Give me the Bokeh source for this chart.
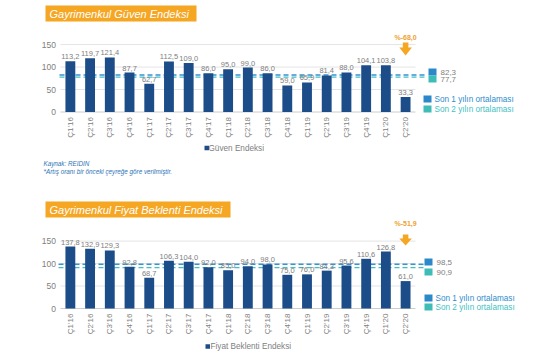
import math
from bokeh.plotting import figure
from bokeh.layouts import column
from bokeh.models import ColumnDataSource
from bokeh.core.properties import value
from bokeh.embed import file_html
from bokeh.resources import INLINE

quarters = ["Ç1'16", "Ç2'16", "Ç3'16", "Ç4'16", "Ç1'17", "Ç2'17", "Ç3'17", "Ç4'17",
            "Ç1'18", "Ç2'18", "Ç3'18", "Ç4'18", "Ç1'19", "Ç2'19", "Ç3'19", "Ç4'19",
            "Ç1'20", "Ç2'20"]
guven = [113.2, 119.7, 121.4, 87.7, 62.7, 112.5, 109.0, 86.0, 95.0, 99.0, 86.0, 59.0,
         65.9, 81.4, 88.0, 104.1, 103.8, 33.3]
fiyat = [137.8, 132.9, 129.3, 92.8, 68.7, 106.3, 104.0, 92.0, 85.0, 94.0, 98.0, 75.0,
         76.0, 84.3, 95.6, 110.6, 126.8, 61.0]
guven_avg = [82.3, 77.7]
fiyat_avg = [98.5, 90.9]
guven_change = "%-68,0"
fiyat_change = "%-51,9"
y_ticks = [0, 50, 100, 150]
avg_names = ["Son 1 yılın ortalaması", "Son 2 yılın ortalaması"]

FONT = value("Liberation Sans")
NAVY = "#1c4d89"
LINE_COLORS = ["#3593d3", "#43bfc4"]
BOX_COLORS = ["#2b88c9", "#3dbdb5"]
TEXT_COLORS = ["#2f8ccc", "#45bfbf"]
ORANGE = "#f5a623"
GREY = "#808080"

W = 555
XPX = 19.72        # px per category
PPU = 67.4 / 150.0 # px per value unit
FRAME_L = 60       # px where category -0.5 sits


def fmt(v):
    return f"{v:.1f}".replace(".", ",")


def dx(px):
    return -0.5 + (px - FRAME_L) / XPX


def make_chart(title, series, avgs, change, legend_text, height, zero_px, lay):
    def dy(py):
        return (zero_px - py) / PPU

    p = figure(width=W, height=height, x_range=(dx(0), dx(W)), y_range=(dy(height), dy(0)),
               output_backend="svg", toolbar_location=None,
               x_axis_location=None, y_axis_location=None,
               min_border_left=0, min_border_right=0, min_border_top=0, min_border_bottom=0)
    p.outline_line_color = None
    p.xgrid.visible = False
    p.ygrid.visible = False

    n = len(series)
    xs = list(range(n))
    last = n - 1

    # grid lines and baseline
    p.segment(x0=[-0.5] * 3, x1=[last + 0.5] * 3, y0=y_ticks[1:], y1=y_ticks[1:],
              line_color="#e4e4e4", line_width=1)
    p.segment(x0=[-0.5], x1=[last + 0.5], y0=[0], y1=[0], line_color="#cccccc", line_width=1)

    # y tick labels
    p.text(x=[dx(55.5)] * len(y_ticks), y=y_ticks, text=[str(t) for t in y_ticks],
           text_align="right", text_baseline="middle", text_font_size="8.5px",
           text_color=GREY, text_font=FONT)

    # category labels (rotated)
    p.text(x=xs, y=[dy(zero_px + 5)] * n, text=quarters, angle=math.pi / 2,
           text_align="right", text_baseline="middle", text_font_size="8px",
           text_color=GREY, text_font=FONT)

    # averages (dashed)
    for a, c in zip(avgs, LINE_COLORS):
        p.segment(x0=[dx(lay["dash"][0])], x1=[dx(lay["dash"][1])], y0=[a], y1=[a],
                  line_color=c, line_width=1.4, line_dash="5 3")

    src = ColumnDataSource(dict(x=xs, y=series, lbl=[fmt(v) for v in series]))
    p.vbar(x="x", top="y", width=0.5, source=src, fill_color=NAVY, line_color=None)
    p.text(x="x", y="y", text="lbl", source=src, text_align="center", text_baseline="bottom",
           y_offset=-2, text_font_size="7.5px", text_color=GREY, text_font=FONT)

    # arrow over last bar
    st, sb, ht, hb = lay["arrow"]
    p.quad(left=[last - 0.14], right=[last + 0.14], top=[dy(st)], bottom=[dy(sb)],
           fill_color=ORANGE, line_color=None)
    p.patch(x=[last - 0.32, last + 0.32, last], y=[dy(ht), dy(ht), dy(hb)],
            fill_color=ORANGE, line_color=None)
    p.text(x=[last], y=[dy(lay["change_y"])], text=[change], text_align="center",
           text_baseline="middle", text_font_size="7px", text_font_style="bold",
           text_color="#f0a030", text_font=FONT)

    # title box
    tl, tr, tt, tb = lay["title_box"]
    p.quad(left=[dx(tl)], right=[dx(tr)], top=[dy(tt)], bottom=[dy(tb)],
           fill_color=ORANGE, line_color=None)
    p.text(x=[dx(tl + 4)], y=[dy((tt + tb) / 2)], text=[title], text_align="left",
           text_baseline="middle", text_font_size="11px", text_font_style="italic",
           text_color="white", text_font=FONT)

    # average value boxes
    ax = lay["avg_x"]
    for (yt, a, c) in zip(lay["avg_y"], avgs, BOX_COLORS):
        p.quad(left=[dx(ax)], right=[dx(ax + 8)], top=[dy(yt)], bottom=[dy(yt + 7)],
               fill_color=c, line_color=None)
        p.text(x=[dx(ax + 12)], y=[dy(yt + 3.5)], text=[fmt(a)], text_align="left",
               text_baseline="middle", text_font_size="8px", text_color=GREY, text_font=FONT)

    # average legend
    lx = lay["leg_x"]
    for (yt, name, c, tc) in zip(lay["leg_y"], avg_names, BOX_COLORS, TEXT_COLORS):
        p.quad(left=[dx(lx)], right=[dx(lx + 8)], top=[dy(yt)], bottom=[dy(yt + 7)],
               fill_color=c, line_color=None)
        p.text(x=[dx(lx + 11)], y=[dy(yt + 3.5)], text=[name], text_align="left",
               text_baseline="middle", text_font_size="8.2px", text_color=tc, text_font=FONT)

    # series legend
    sx, sy = lay["series_leg"]
    p.quad(left=[dx(sx)], right=[dx(sx + 4.5)], top=[dy(sy - 2.2)], bottom=[dy(sy + 2.3)],
           fill_color=NAVY, line_color=None)
    p.text(x=[dx(sx + lay["series_gap"])], y=[dy(sy)], text=[legend_text], text_align="left",
           text_baseline="middle", text_font_size="8.2px", text_color=GREY, text_font=FONT)

    for (fx_, fy_, txt) in lay.get("notes", []):
        p.text(x=[dx(fx_)], y=[dy(fy_)], text=[txt], text_align="left",
               text_baseline="middle", text_font_size="6.3px", text_font_style="italic",
               text_color="#2e74b5", text_font=FONT)
    return p


lay1 = dict(title_box=(45, 196, 5, 21), dash=(59, 425),
            arrow=(42, 48, 47, 55), change_y=37,
            avg_x=428, avg_y=(68, 75), leg_x=423, leg_y=(95, 105),
            series_leg=(204, 147.5), series_gap=4,
            notes=[(43, 163, "Kaynak: REIDIN"),
                   (43, 171, "*Artış oranı bir önceki çeyreğe göre verilmiştir.")])
lay2 = dict(title_box=(45, 230, 11, 27), dash=(58, 424),
            arrow=(44, 49, 48, 55), change_y=33,
            avg_x=424, avg_y=(68, 78), leg_x=424, leg_y=(104, 113),
            series_leg=(205, 156), series_gap=5)

p1 = make_chart("Gayrimenkul Güven Endeksi", guven, guven_avg, guven_change,
                "Güven Endeksi", 190, 111.5, lay1)
p2 = make_chart("Gayrimenkul Fiyat Beklenti Endeksi", fiyat, fiyat_avg, fiyat_change,
                "Fiyat Beklenti Endeksi", 165, 118, lay2)

layout = column(p1, p2)
open("out.html", "w").write(file_html(layout, INLINE))
